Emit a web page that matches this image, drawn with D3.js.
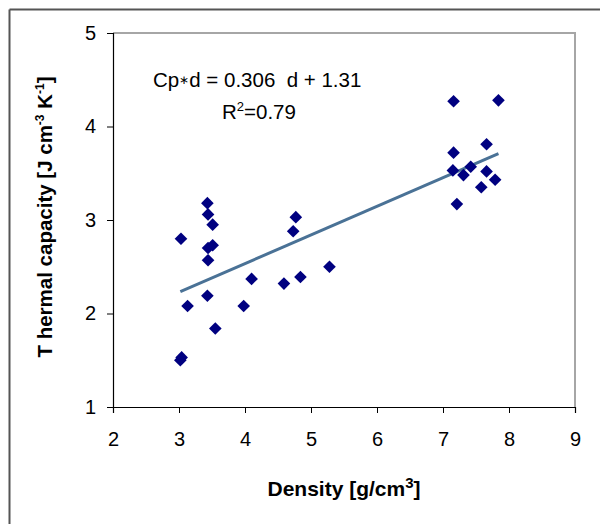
<!DOCTYPE html>
<html><head><meta charset="utf-8">
<script src="https://cdn.jsdelivr.net/npm/d3@7"></script>
<style>body{margin:0;background:#fff}svg{display:block}text{font-family:"Liberation Sans",Arial,sans-serif}</style>
</head><body>
<script>
const density = [3.03,3.13,3.02,3.04,3.43,3.44,3.51,3.51,3.44,3.44,3.43,3.55,3.98,4.10,4.59,4.73,4.77,4.84,5.28,7.16,7.84,7.16,7.66,7.15,7.31,7.42,7.66,7.79,7.58,7.21];
const capacity = [2.80,2.08,1.50,1.53,3.18,3.06,2.95,2.73,2.70,2.57,2.19,1.84,2.08,2.37,2.32,2.88,3.03,2.39,2.50,4.27,4.28,3.72,3.81,3.53,3.48,3.57,3.52,3.43,3.35,3.17];
const xTicks = [2,3,4,5,6,7,8,9];
const yTicks = [1,2,3,4,5];
const slope = 0.306, intercept = 1.31;

const W=600,H=524;
const svg=d3.select("body").append("svg").attr("width",W).attr("height",H);
svg.append("line").attr("x1",9.5).attr("x2",600).attr("y1",9.5).attr("y2",9.5).attr("stroke","#555").attr("stroke-width",2);
svg.append("line").attr("x1",9.5).attr("x2",9.5).attr("y1",9.5).attr("y2",524).attr("stroke","#555").attr("stroke-width",2);

const L=113,R=575,T=33,B=407;
const x=d3.scaleLinear().domain([2,9]).range([L,R]);
const y=d3.scaleLinear().domain([1,5]).range([B,T]);

svg.append("path").attr("d",`M${L},${T}H${R}V${B}`).attr("fill","none").attr("stroke","#a6a6a6").attr("stroke-width",2);

const xa=svg.append("g").attr("transform",`translate(0,${B})`).call(d3.axisBottom(x).tickValues(xTicks).tickSize(6).tickPadding(19).tickFormat(d3.format("d")));
const ya=svg.append("g").attr("transform",`translate(${L},0)`).call(d3.axisLeft(y).tickValues(yTicks).tickSize(6).tickPadding(11).tickFormat(d3.format("d")));
[xa,ya].forEach(a=>{a.select(".domain").attr("stroke","#000").attr("stroke-width",1.2);a.selectAll(".tick line").attr("stroke","#000");a.selectAll("text").attr("font-size",20).attr("fill","#000").attr("font-family","Liberation Sans, Arial, sans-serif");});

const xmin=d3.min(density),xmax=d3.max(density);
svg.append("line").attr("x1",x(xmin)).attr("y1",y(slope*xmin+intercept)).attr("x2",x(xmax)).attr("y2",y(slope*xmax+intercept)).attr("stroke","#4a7296").attr("stroke-width",3);

const sym=d3.symbol().type(d3.symbolSquare).size(80);
svg.append("g").selectAll("path").data(density.map((d,i)=>[d,capacity[i]])).join("path")
 .attr("d",sym).attr("transform",d=>`translate(${x(d[0])},${y(d[1])}) rotate(45)`).attr("fill","#000080");

const eq=svg.append("text").attr("x",153).attr("y",87).attr("font-size",20.5).attr("fill","#000").style("white-space","pre");
eq.append("tspan").text("Cp");
eq.append("tspan").attr("font-size",12).attr("dy",-3).text("∗");
eq.append("tspan").attr("dy",3).text("d = 0.306  d + 1.31");
const r2=svg.append("text").attr("x",222).attr("y",119).attr("font-size",20.5).attr("fill","#000");
r2.append("tspan").text("R");
r2.append("tspan").attr("dy",-8).attr("font-size",13).text("2");
r2.append("tspan").attr("dy",8).text("=0.79");

const xt=svg.append("text").attr("x",(L+R)/2).attr("y",496).attr("text-anchor","middle").attr("font-size",21).attr("font-weight","bold").attr("fill","#000");
xt.append("tspan").text("Density [g/cm");
xt.append("tspan").attr("dy",-8).attr("font-size",15).text("3");
xt.append("tspan").attr("dy",8).text("]");

const yt=svg.append("text").attr("transform",`translate(52,${(T+B)/2-3}) rotate(-90)`).attr("text-anchor","middle").attr("font-size",20.5).attr("font-weight","bold").attr("fill","#000");
yt.append("tspan").text("T hermal capacity [J cm");
yt.append("tspan").attr("dy",-8).attr("font-size",12).text("-3");
yt.append("tspan").attr("dy",8).text(" K");
yt.append("tspan").attr("dy",-8).attr("font-size",12).text("-1");
yt.append("tspan").attr("dy",8).text("]");
</script>
</body></html>
